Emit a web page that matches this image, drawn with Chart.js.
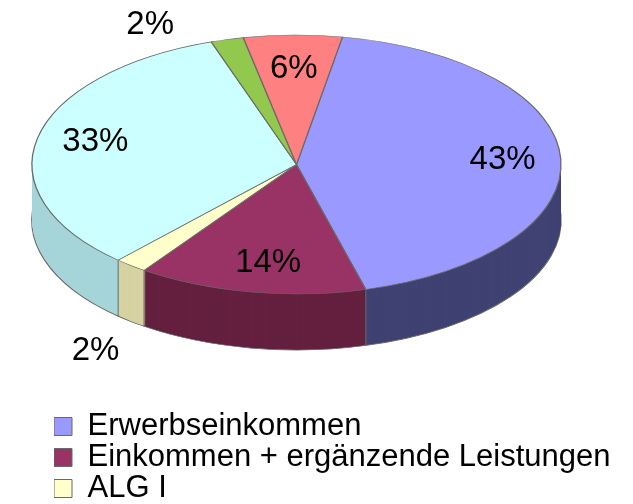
<!DOCTYPE html>
<html>
<head>
<meta charset="utf-8">
<script src="https://cdn.jsdelivr.net/npm/chart.js@4"></script>
<style>
  html, body { margin: 0; padding: 0; background: #fff; overflow: hidden; }
  #wrap { width: 633px; height: 504px; }
</style>
</head>
<body>
<div id="wrap"><canvas id="chart" width="633" height="504"></canvas></div>
<script>
const categories = ["Erwerbseinkommen", "Einkommen + ergänzende Leistungen", "ALG I", "ALG II", "Rente", "Sonstiges"];
const shares = [43, 14, 2, 33, 2, 6];
const topColors = ["#9999FF", "#993366", "#FFFFCC", "#CCFFFF", "#92C84E", "#FF8080"];
const sideColors = ["#3F4272", "#64203F", "#D6D2A2", "#A6D5D9", "#5E8A2E", "#A85050"];

// where the tilted top face sits on the page, and how thick the disc is
const FACE = { cx: 296.5, cy: 164.5, rx: 264.5, ry: 129.5 };
const DEPTH = 56;
const EDGE = "#6a6a6a";

// label placement per slice: radius factor, turn in degrees, drop below the wall
const labelRadius = [0.78, 0.77, 1.24, 0.78, 1.21, 0.74];
const labelTurn = [0, -2, -1, 1, -12, 0];
const labelDrop = [0, 0, 60, 0, 0, 0];

Chart.defaults.font.family = "'Liberation Sans', Arial, sans-serif";
Chart.defaults.color = "#000";

const drawArc = (ctx, arc, opts) => {
  const a = Object.create(arc);
  a.options = Object.assign({}, arc.options, opts);
  a.draw(ctx);
};

const pie3d = {
  id: "pie3d",
  beforeDatasetsDraw(chart) {
    const ctx = chart.ctx;
    const arcs = chart.getDatasetMeta(0).data;
    const { x, y, outerRadius } = arcs[0];
    const s = FACE.rx / outerRadius;
    const place = dy => {
      ctx.translate(FACE.cx, FACE.cy + dy);
      ctx.scale(s, s * FACE.ry / FACE.rx);
      ctx.translate(-x, -y);
    };

    // side wall, stacked from the bottom up
    for (let d = DEPTH; d >= 1; d--) {
      ctx.save();
      place(d);
      arcs.forEach((arc, i) => drawArc(ctx, arc, {
        backgroundColor: sideColors[i],
        borderColor: EDGE,
        borderWidth: d === DEPTH ? 1.5 / s : 0
      }));
      ctx.restore();
    }

    // vertical seams where slices meet on the front
    ctx.save();
    ctx.strokeStyle = EDGE;
    ctx.lineWidth = 1;
    arcs.forEach(arc => {
      const a = arc.startAngle;
      if (Math.sin(a) <= 0.02) return;
      const X = FACE.cx + Math.cos(a) * FACE.rx;
      const Y = FACE.cy + Math.sin(a) * FACE.ry;
      ctx.beginPath();
      ctx.moveTo(X, Y);
      ctx.lineTo(X, Y + DEPTH);
      ctx.stroke();
    });
    ctx.restore();

    // top face
    ctx.save();
    place(0);
    arcs.forEach(arc => drawArc(ctx, arc, { borderWidth: 1.3 / s, borderColor: EDGE }));
    ctx.restore();
    return false;
  },
  afterDraw(chart) {
    const ctx = chart.ctx;
    const arcs = chart.getDatasetMeta(0).data;
    ctx.save();
    ctx.font = "33px 'Liberation Sans', Arial, sans-serif";
    ctx.fillStyle = "#000";
    ctx.textAlign = "center";
    ctx.textBaseline = "middle";
    arcs.forEach((arc, i) => {
      const mid = (arc.startAngle + arc.endAngle) / 2 + labelTurn[i] * Math.PI / 180;
      const X = FACE.cx + Math.cos(mid) * FACE.rx * labelRadius[i];
      const Y = FACE.cy + Math.sin(mid) * FACE.ry * labelRadius[i] + labelDrop[i];
      ctx.fillText(shares[i] + "%", X, Y);
    });
    ctx.restore();
  }
};

new Chart(document.getElementById("chart"), {
  type: "pie",
  data: {
    labels: categories,
    datasets: [{
      data: shares,
      backgroundColor: topColors,
      borderColor: EDGE,
      borderWidth: 1,
      clip: false
    }]
  },
  options: {
    responsive: false,
    animation: false,
    events: [],
    rotation: 10,
    layout: { padding: { left: 54, bottom: -10 } },
    plugins: {
      tooltip: { enabled: false },
      legend: {
        position: "bottom",
        align: "start",
        labels: {
          boxWidth: 18,
          boxHeight: 18,
          padding: 0,
          font: { size: 31 },
          color: "#000",
          filter: item => item.index < 3
        }
      }
    }
  },
  plugins: [pie3d]
});
</script>
</body>
</html>
